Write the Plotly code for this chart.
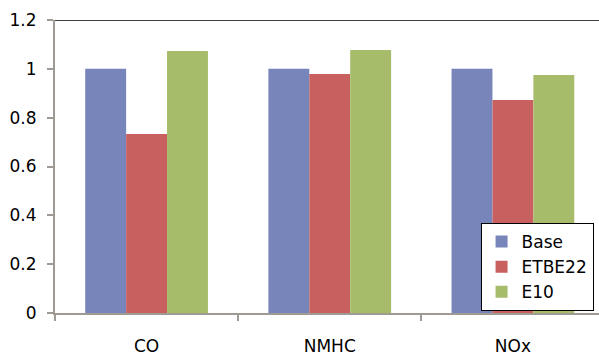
import plotly.graph_objects as go

categories = ["CO", "NMHC", "NOx"]
base = [1.0, 1.0, 1.0]
etbe22 = [0.733, 0.979, 0.872]
e10 = [1.073, 1.077, 0.975]
y_ticks = [0, 0.2, 0.4, 0.6, 0.8, 1.0, 1.2]
y_tick_labels = ["0", "0.2", "0.4", "0.6", "0.8", "1", "1.2"]

FONT = "'DejaVu Sans', sans-serif"

fig = go.Figure()
fig.add_trace(go.Bar(name="Base", x=categories, y=base, marker_color="#7785BA", marker_line_width=0))
fig.add_trace(go.Bar(name="ETBE22", x=categories, y=etbe22, marker_color="#C86060", marker_line_width=0))
fig.add_trace(go.Bar(name="E10", x=categories, y=e10, marker_color="#A7BC6A", marker_line_width=0))

fig.update_layout(
    width=599, height=356,
    margin=dict(l=55, r=0, t=20, b=43),
    plot_bgcolor="white", paper_bgcolor="white",
    barmode="group", bargap=0.33, bargroupgap=0,
    font=dict(family=FONT, size=17, color="black"),
    legend=dict(
        x=0.99, y=0.307, xanchor="right", yanchor="top",
        bgcolor="white", bordercolor="black", borderwidth=1,
        font=dict(size=17), tracegroupgap=0, itemwidth=30,
    ),
    xaxis=dict(
        range=[-0.5, 2.47], showline=True, linecolor="#A09A94", linewidth=2,
        ticks="outside", tickson="boundaries", ticklen=6, tickcolor="#A09A94", tickwidth=2,
        ticklabelstandoff=17, showgrid=False, zeroline=False,
    ),
    yaxis=dict(
        range=[0, 1.2], tickvals=y_ticks, ticktext=y_tick_labels,
        showline=True, linecolor="#A09A94", linewidth=2,
        ticks="outside", ticklen=6, tickcolor="#A09A94", tickwidth=2,
        showgrid=False, zeroline=False, ticklabelstandoff=7,
    ),
)
fig.add_shape(type="line", xref="paper", yref="y", x0=0, x1=1, y0=1.2, y1=1.2,
              line=dict(color="black", width=1.5))

fig.write_html("out.html")
